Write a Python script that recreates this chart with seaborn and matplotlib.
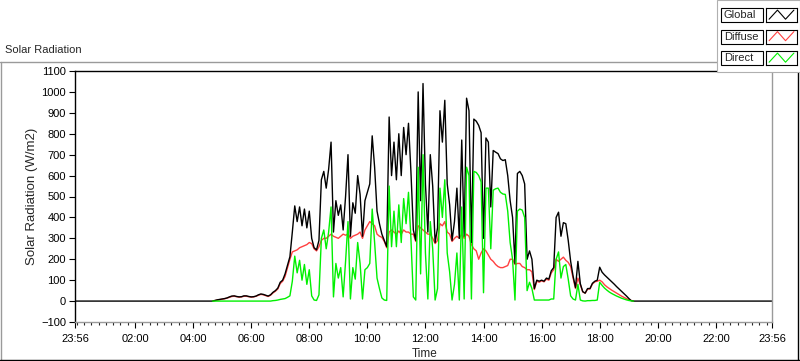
import numpy as np
import pandas as pd
import matplotlib
matplotlib.use("Agg")
import matplotlib.pyplot as plt
from matplotlib.lines import Line2D
from matplotlib.patches import Rectangle
import seaborn as sns

# 5-minute readings from 04:40 to 19:10, one row per hour
global_vals = [
    0, 3, 6, 8,
    10, 12, 15, 20, 24, 25, 22, 20, 21, 25, 25, 22,
    20, 21, 24, 30, 34, 32, 28, 24, 30, 42, 50, 62,
    90, 100, 130, 172, 212, 330, 455, 380, 450, 360, 440, 350,
    430, 300, 255, 245, 290, 580, 620, 540, 630, 760, 330, 480,
    410, 460, 340, 500, 700, 310, 470, 420, 600, 510, 310, 480,
    520, 560, 790, 640, 430, 370, 320, 290, 260, 880, 600, 760,
    580, 800, 600, 830, 700, 850, 620, 340, 290, 1000, 480, 1040,
    560, 330, 700, 550, 280, 350, 910, 760, 960, 560, 460, 290,
    380, 540, 300, 770, 310, 970, 910, 280, 870, 860, 840, 805,
    300, 780, 760, 450, 720, 712, 705, 680, 672, 676, 600, 480,
    400, 180, 610, 620, 600, 560, 200, 240, 200, 60, 100, 95,
    100, 95, 110, 105, 145, 160, 400, 425, 310, 375, 370, 290,
    190, 120, 65, 190, 83, 45, 38, 60, 60, 85, 95, 100,
    162, 138, 125, 114, 103, 92, 81, 69, 58, 47, 36, 25,
    13, 2, 0,
]
diffuse_vals = [
    0, 2, 5, 7,
    9, 11, 14, 18, 22, 23, 21, 19, 20, 23, 23, 21,
    19, 20, 23, 28, 32, 30, 26, 22, 28, 39, 47, 58,
    84, 95, 118, 160, 200, 235, 240, 245, 255, 260, 265, 270,
    280, 275, 250, 240, 260, 290, 300, 300, 310, 320, 310, 305,
    300, 310, 320, 315, 320, 300, 310, 315, 320, 330, 300, 340,
    360, 380, 370, 360, 320, 310, 305, 285, 255, 330, 340, 330,
    320, 335, 320, 340, 330, 330, 320, 320, 285, 360, 350, 340,
    330, 320, 320, 300, 275, 290, 370, 360, 380, 330, 320, 285,
    300, 310, 300, 320, 300, 320, 310, 270, 250, 240, 200, 230,
    250, 240, 220, 200, 190, 175, 165, 160, 160, 165, 170, 200,
    200, 175, 180, 180, 165, 160, 150, 150, 140, 55, 95, 90,
    97, 92, 105, 100, 135, 150, 200, 190, 200, 210, 195, 185,
    165, 110, 60, 110, 78, 44, 38, 57, 58, 82, 92, 95,
    100, 92, 78, 68, 60, 52, 45, 38, 31, 24, 18, 12,
    7, 3, 0,
]
direct_vals = [
    0, 0, 0, 0,
    0, 0, 0, 0, 0, 0, 0, 0, 0, 0, 0, 0,
    0, 0, 0, 0, 0, 0, 0, 0, 0, 2, 3, 5,
    8, 10, 12, 18, 25, 95, 215, 135, 195, 100, 175, 80,
    150, 25, 5, 3, 30, 300, 340, 250, 330, 450, 20, 180,
    110, 160, 20, 190, 380, 10, 160, 105, 280, 180, 10, 150,
    160, 180, 440, 280, 110, 60, 15, 5, 3, 550, 260, 430,
    260, 460, 280, 490, 370, 520, 300, 20, 5, 640, 130, 700,
    230, 10, 380, 250, 5, 60, 540, 400, 580, 230, 140, 5,
    80, 230, 5, 450, 10, 640, 600, 10, 620, 615, 600, 570,
    40, 540, 540, 250, 530, 537, 540, 520, 512, 510, 430, 280,
    200, 5, 430, 440, 435, 400, 50, 90, 60, 5, 5, 5,
    5, 5, 5, 5, 10, 10, 200, 235, 110, 165, 175, 105,
    25, 10, 5, 80, 5, 1, 0, 2, 2, 3, 3, 5,
    90, 75, 62, 52, 43, 36, 30, 24, 19, 14, 10, 6,
    3, 1, 0,
]

day_start = "04:40"
step = "5min"
x_start, x_end = -4 / 60, 24 - 4 / 60  # 23:56 -> 23:56
tick_hours = [x_start, 2, 4, 6, 8, 10, 12, 14, 16, 18, 20, 22, x_end]
tick_labels = ["23:56", "02:00", "04:00", "06:00", "08:00", "10:00", "12:00",
               "14:00", "16:00", "18:00", "20:00", "22:00", "23:56"]
series_colors = {"Global": "#000000", "Diffuse": "#ff4040", "Direct": "#00f000"}

# build long table
t = pd.date_range("2000-01-01 " + day_start, periods=len(global_vals), freq=step)
hours = (t.hour + t.minute / 60).to_numpy()
rows = []
for name, vals in [("Global", global_vals), ("Diffuse", diffuse_vals), ("Direct", direct_vals)]:
    rows.append(pd.DataFrame({"hour": hours, "value": vals, "series": name}))
# global channel logs zero through the night
rows.append(pd.DataFrame({"hour": [x_start, x_end], "value": [0, 0], "series": "Global"}))
df = pd.concat(rows, ignore_index=True).sort_values(["series", "hour"])

sns.set_style("white")
plt.rcParams["font.family"] = ["Liberation Sans", "DejaVu Sans"]

fig = plt.figure(figsize=(8, 3.61), dpi=100)
W, H = 800, 361


def fx(x):
    return x / W


def fy(y):
    return 1 - y / H


ax = fig.add_axes([fx(75), fy(322), fx(772) - fx(75), fy(71) - fy(322)])
sns.lineplot(data=df, x="hour", y="value", hue="series",
             hue_order=["Diffuse", "Global", "Direct"], palette=series_colors,
             estimator=None, sort=True, legend=False, lw=1.0, ax=ax)

ax.set_xlim(x_start, x_end)
ax.set_ylim(-100, 1100)
ax.set_yticks(range(-100, 1101, 100))
ax.set_xticks(tick_hours)
ax.set_xticklabels(tick_labels)
ax.set_xticks(np.arange(0, 24, 0.25), minor=True)
ax.tick_params(axis="both", which="major", direction="out", length=4.5, width=0.8,
               labelsize=8, pad=2, colors="black", bottom=True, left=True)
ax.tick_params(axis="x", which="major", pad=4)
ax.tick_params(axis="x", which="minor", direction="out", length=2.5, width=0.8, bottom=True)
ax.set_xlabel("")
ax.set_ylabel("")
ax.grid(False)
for side in ["left", "top"]:
    ax.spines[side].set_color("black")
    ax.spines[side].set_linewidth(1.0)
for side in ["right", "bottom"]:
    ax.spines[side].set_color("#9a9a9a")
    ax.spines[side].set_linewidth(1.0)

fig.text(fx(32), fy(196), "Solar Radiation (W/m2)", rotation=90, ha="center", va="center", fontsize=9.5)
fig.text(fx(425), fy(354), "Time", ha="center", va="center", fontsize=8.5)
fig.text(fx(5), fy(50), "Solar Radiation", ha="left", va="center", fontsize=8)

# outer frame
fig.add_artist(Line2D([fx(0.5), fx(0.5)], [fy(62), fy(360)], color="#9a9a9a", lw=1, transform=fig.transFigure))
fig.add_artist(Line2D([fx(0), fx(717)], [fy(62), fy(62)], color="#9a9a9a", lw=1, transform=fig.transFigure))
fig.add_artist(Line2D([fx(0), fx(800)], [fy(360), fy(360)], color="black", lw=1, transform=fig.transFigure))
fig.add_artist(Line2D([fx(798), fx(798)], [fy(72), fy(360)], color="black", lw=1, transform=fig.transFigure))

# legend panel
fig.add_artist(Rectangle((fx(717), fy(72)), fx(83), 72 / H, transform=fig.transFigure,
                         facecolor="white", edgecolor="#b0b0b0", lw=0.8, zorder=2))
for i, name in enumerate(["Global", "Diffuse", "Direct"]):
    yc = 15 + i * 21.5
    fig.add_artist(Rectangle((fx(721), fy(yc + 7)), fx(42), 14 / H, transform=fig.transFigure,
                             facecolor="white", edgecolor="black", lw=0.8, zorder=3))
    fig.text(fx(724), fy(yc), name, ha="left", va="center", fontsize=8, zorder=4)
    sax = fig.add_axes([fx(766), fy(yc + 7), fx(31), 14 / H])
    sax.set_zorder(5)
    sax.plot([0.1, 0.37, 0.63, 0.9], [0.2, 0.85, 0.2, 0.85], color=series_colors[name], lw=0.8)
    sax.set_xlim(0, 1)
    sax.set_ylim(0, 1)
    sax.set_xticks([])
    sax.set_yticks([])
    for s in sax.spines.values():
        s.set_color("black")
        s.set_linewidth(0.8)

fig.savefig("out.png", dpi=100)
